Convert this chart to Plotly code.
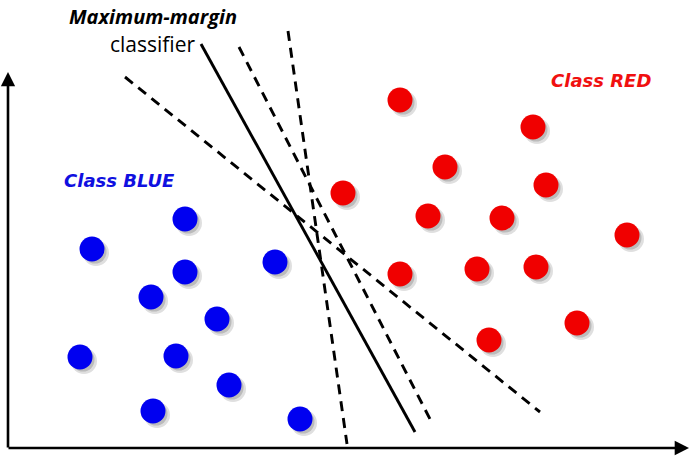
import plotly.graph_objects as go

H = 458
# point centres (x, y measured upward from the bottom edge)
blue_x = [185, 92, 185, 275, 151, 217, 80, 176, 229, 153, 300]
blue_y = [H - v for v in [219, 249, 272, 262, 297, 319, 357, 356, 385, 411, 419]]
red_x = [400, 533, 445, 546, 343, 428, 502, 627, 400, 477, 536, 577, 489]
red_y = [H - v for v in [100, 127, 167, 185, 193, 216, 218, 235, 274, 269, 267, 323, 340]]

# separating lines (end points)
solid_x = [201, 415]
solid_y = [H - 44, H - 432]
dash1_x = [125, 540]
dash1_y = [H - 77, H - 412]
dash2_x = [239, 431]
dash2_y = [H - 47, H - 421]
dash3_x = [288, 347]
dash3_y = [H - 31, H - 444]

fig = go.Figure()

shadow_dx, shadow_dy = 4, -4
for xs, ys, col in [(blue_x, blue_y, "#0000f0"), (red_x, red_y, "#f00000")]:
    fig.add_trace(go.Scatter(x=[v + shadow_dx for v in xs], y=[v + shadow_dy for v in ys],
                             mode="markers", hoverinfo="skip",
                             marker=dict(size=26, color="rgba(80,80,80,0.18)", line=dict(width=0))))
    fig.add_trace(go.Scatter(x=[v + shadow_dx - 1 for v in xs], y=[v + shadow_dy + 1 for v in ys],
                             mode="markers", hoverinfo="skip",
                             marker=dict(size=23, color="rgba(60,60,60,0.22)", line=dict(width=0))))
    fig.add_trace(go.Scatter(x=xs, y=ys, mode="markers",
                             marker=dict(size=25, color=col, line=dict(width=0))))

for xs, ys, dash in [(solid_x, solid_y, "solid"), (dash1_x, dash1_y, "10px,7px"),
                     (dash2_x, dash2_y, "10px,7px"), (dash3_x, dash3_y, "10px,7px")]:
    fig.add_trace(go.Scatter(x=xs, y=ys, mode="lines",
                             line=dict(color="black", width=2.9, dash=dash)))

# axes arrows
fig.add_annotation(x=8, y=H - 72, ax=8, ay=H - 449, xref="x", yref="y", axref="x", ayref="y",
                   showarrow=True, arrowhead=2, arrowsize=1.1, arrowwidth=2.6, arrowcolor="black", text="")
fig.add_annotation(x=689, y=H - 448, ax=7, ay=H - 448, xref="x", yref="y", axref="x", ayref="y",
                   showarrow=True, arrowhead=2, arrowsize=1.1, arrowwidth=2.6, arrowcolor="black", text="")

fig.add_annotation(x=153, y=H - 16, text="<b><i>Maximum-margin</i></b>", showarrow=False,
                   font=dict(family="Open Sans, Liberation Sans", size=20, color="black"))
fig.add_annotation(x=153, y=H - 44, text="classifier", showarrow=False,
                   font=dict(family="Open Sans, Liberation Sans", size=21, color="black"))
fig.add_annotation(x=119, y=H - 180, text="<b><i>Class BLUE</i></b>", showarrow=False,
                   font=dict(family="DejaVu Sans", size=18, color="#1010e0"))
fig.add_annotation(x=601, y=H - 80, text="<b><i>Class RED</i></b>", showarrow=False,
                   font=dict(family="DejaVu Sans", size=18, color="#f01010"))

fig.update_layout(width=695, height=458, margin=dict(l=0, r=0, t=0, b=0),
                  plot_bgcolor="white", paper_bgcolor="white", showlegend=False,
                  xaxis=dict(range=[0, 695], visible=False, fixedrange=True),
                  yaxis=dict(range=[0, 458], visible=False, fixedrange=True))
# remove the default 8px page margin so the figure fills the window exactly
fig.write_html("out.html", config={"displayModeBar": False},
               post_script="document.body.style.margin='0';document.body.style.overflow='hidden';")
